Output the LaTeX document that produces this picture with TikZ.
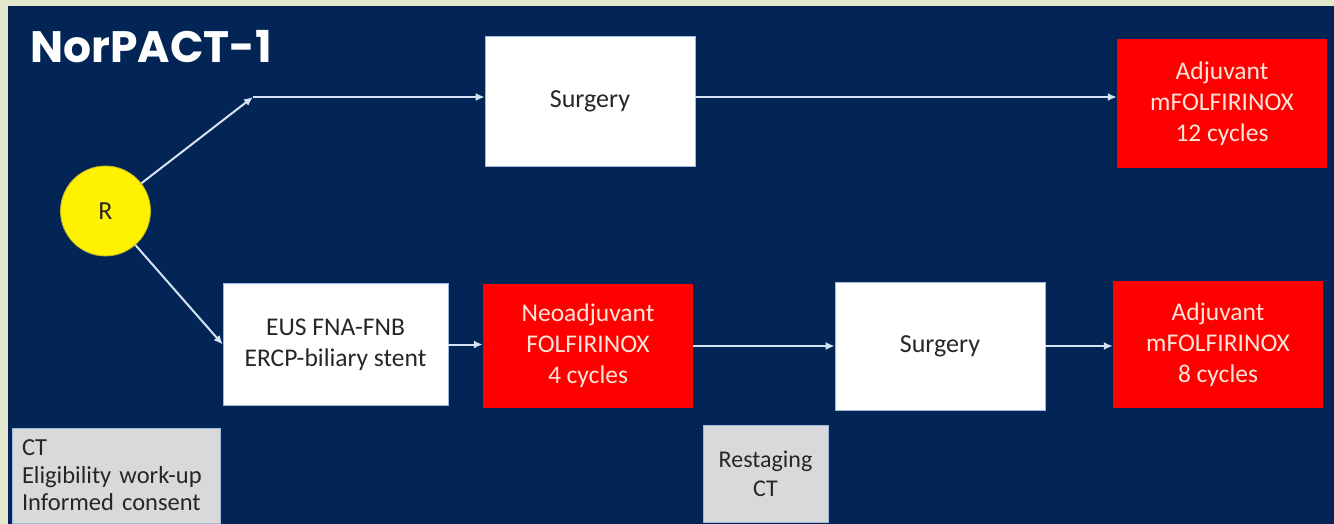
\documentclass[tikz,border=0pt]{standalone}
\usepackage{fontspec}
\setmainfont{Carlito}
\newfontfamily\titlefont{Poppins}
\usetikzlibrary{arrows.meta}
\definecolor{slidebg}{RGB}{226,232,204}
\definecolor{navy}{RGB}{2,37,86}
\definecolor{boxred}{RGB}{255,0,0}
\definecolor{boxgray}{RGB}{217,217,217}
\definecolor{arrowc}{RGB}{214,227,243}
\definecolor{redtext}{RGB}{255,228,218}
\definecolor{darktext}{RGB}{38,38,38}
\definecolor{rimblue}{RGB}{160,185,220}
\definecolor{rimyellow}{RGB}{190,180,40}
\tikzset{
  whitebox/.style={rectangle,fill=white,draw=rimblue,line width=0.6pt,text=darktext},
  redbox/.style={rectangle,fill=boxred,text=redtext},
  graybox/.style={rectangle,fill=boxgray,draw=rimblue,line width=0.8pt,text=darktext},
  flow/.style={draw=arrowc,line width=2pt,-{Latex[length=9pt,width=8pt]}}
}
\begin{document}
\begin{tikzpicture}[x=1pt,y=-1pt]
        \useasboundingbox (0,0) rectangle (1334,524);
        \fill[slidebg] (0,0) rectangle (1334,524);
        \fill[navy] (8,6) rectangle (1334,524);
        \node (title) at (30,63) [anchor=base west,inner sep=0pt,text=white,
            font=\titlefont\bfseries\fontsize{44}{48}\selectfont]{NorPACT-1};
        \begin{scope}[every node/.style={inner sep=0pt,align=center,
                        font=\fontsize{25.5}{31}\selectfont}]
            \node (R) at (105.5,211) [circle,fill=yellow,draw=rimyellow,line width=0.8pt,
                minimum size=90pt,text=darktext,font=\fontsize{26}{30}\selectfont]{R};
            \node (surgA) at (590,101) [whitebox,minimum width=210pt,minimum height=130pt,
                font=\fontsize{26}{30}\selectfont]{Surgery};
            \node (adjA) at (1222,104) [redbox,minimum width=210pt,minimum height=129pt]{Adjuvant\\mFOLFIRINOX\\12 cycles};
            \node (eus) at (335.5,344.5) [whitebox,minimum width=225pt,minimum height=122pt]{EUS FNA-FNB\\ERCP-biliary stent};
            \node (neo) at (588,346) [redbox,minimum width=210pt,minimum height=124pt]{Neoadjuvant\\FOLFIRINOX\\4 cycles};
            \node (surgB) at (940,346) [whitebox,minimum width=210pt,minimum height=128pt,
                font=\fontsize{26}{30}\selectfont]{Surgery};
            \node (adjB) at (1218,344.5) [redbox,minimum width=210pt,minimum height=127pt]{Adjuvant\\mFOLFIRINOX\\8 cycles};
            \node (ct) at (116,475.5) [graybox,align=left,text width=188pt,minimum width=208pt,
                minimum height=95pt,font=\fontsize{24.5}{27.5}\selectfont]{CT\\Eligibility work-up\\Informed consent};
            \node (restag) at (765.5,473.5) [graybox,minimum width=125pt,minimum height=97pt,
                font=\fontsize{24}{29}\selectfont]{Restaging\\CT};
        \end{scope}
        \coordinate (k) at (253,97);
        \path (R) edge[flow] (k);
        \path (k) edge[flow] (k -| surgA.west);
        \path (surgA.east |- k) edge[flow] (adjA.west |- k);
        \path (R) edge[flow] (eus.west);
        \path (eus) edge[flow] (eus -| neo.west);
        \path (neo) edge[flow] (neo -| surgB.west);
        \path (surgB) edge[flow] (surgB -| adjB.west);
\end{tikzpicture}
\end{document}
